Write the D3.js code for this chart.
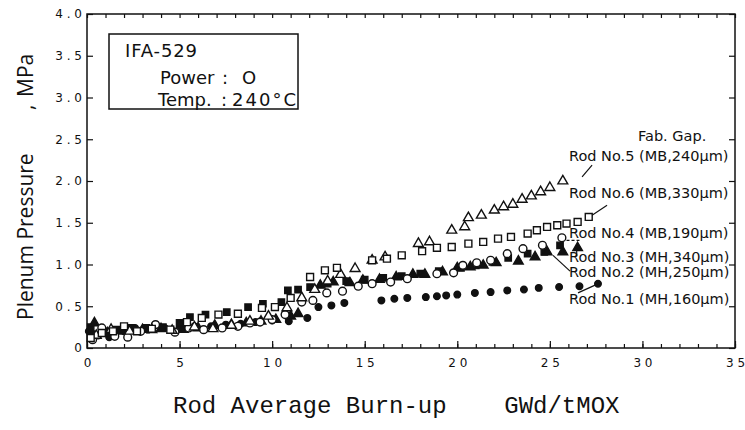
<!DOCTYPE html>
<html>
<head>
<meta charset="utf-8">
<script src="https://cdn.jsdelivr.net/npm/d3@7"></script>
<style>
    body { margin: 0; background: #fff; }
    svg { display: block; }
    .tick text { font-family: "DejaVu Sans", sans-serif; font-size: 12px; fill: #111; }
    .tick line { stroke: #111; stroke-width: 1.2; }
    .note { font-family: "DejaVu Sans", sans-serif; font-size: 14.5px; fill: #111; }
    .box-text { font-family: "DejaVu Sans", sans-serif; font-size: 18px; fill: #111; }
</style>
</head>
<body>
<div id="chart"></div>
<script>

// [burn-up GWd/tMOX, plenum pressure MPa]
const rod1 = [[0.1,0.2],[0.3,0.17],[0.6,0.15],[1.2,0.13],[2.0,0.2],[2.6,0.24],[3.3,0.22],[4.2,0.24],[5.0,0.24],[5.8,0.26],[6.7,0.26],[7.5,0.28],[8.3,0.29],[9.1,0.31],[10.0,0.33],[10.9,0.32],[11.9,0.36],[12.5,0.49],[13.2,0.51],[13.9,0.54],[15.9,0.57],[16.6,0.59],[17.3,0.60],[18.3,0.61],[18.9,0.62],[19.4,0.63],[20.0,0.64],[20.95,0.66],[21.8,0.67],[22.7,0.69],[23.6,0.70],[24.4,0.72],[25.5,0.73],[26.6,0.74],[27.6,0.77]];
const rod2 = [[0.2,0.25],[0.9,0.2],[1.6,0.22],[2.4,0.24],[3.2,0.24],[4.1,0.25],[5.0,0.3],[5.56,0.37],[6.4,0.40],[7.55,0.43],[8.7,0.49],[9.5,0.53],[10.5,0.55],[10.85,0.69],[11.4,0.70],[12.05,0.73],[13.0,0.77],[14.0,0.80],[15.0,0.82],[16.0,0.84],[17.0,0.86],[18.0,0.89],[19.0,0.92],[20.2,0.96],[21.0,0.99],[21.9,1.03],[22.75,1.08],[23.8,1.13],[24.7,1.15],[25.55,1.23]];
const rod3 = [[0.4,0.3],[1.1,0.18],[1.9,0.2],[3.0,0.22],[4.0,0.23],[5.2,0.22],[6.0,0.24],[6.9,0.27],[7.8,0.28],[8.6,0.3],[9.4,0.32],[10.2,0.34],[11.0,0.38],[11.4,0.41],[12.6,0.75],[13.3,0.79],[14.2,0.78],[14.9,0.81],[15.8,0.82],[16.7,0.85],[17.6,0.88],[18.25,0.88],[19.2,0.91],[20.0,0.96],[20.7,0.97],[21.4,0.99],[22.1,1.02],[23.3,1.04],[24.2,1.09],[24.85,1.15],[25.7,1.15],[26.5,1.2]];
const rod4 = [[0.3,0.1],[0.8,0.24],[1.5,0.14],[2.2,0.13],[2.9,0.2],[3.7,0.28],[4.75,0.19],[5.5,0.24],[6.3,0.22],[7.3,0.24],[8.15,0.26],[8.8,0.3],[9.35,0.31],[10.0,0.34],[10.7,0.4],[11.6,0.55],[12.2,0.57],[12.95,0.66],[13.8,0.68],[14.65,0.74],[15.4,0.77],[16.4,0.79],[17.3,0.83],[18.9,0.89],[19.8,0.90],[20.3,0.99],[21.05,1.02],[21.8,1.05],[22.7,1.13],[23.55,1.19],[24.6,1.23],[25.65,1.32]];
const rod5 = [[0.5,0.15],[1.3,0.22],[2.3,0.2],[3.5,0.22],[4.6,0.21],[5.8,0.25],[6.8,0.23],[7.8,0.27],[8.8,0.32],[9.8,0.38],[10.8,0.48],[11.6,0.6],[12.3,0.7],[13.0,0.8],[13.7,0.88],[14.48,0.95],[15.4,1.05],[16.1,1.09],[17.9,1.25],[18.5,1.27],[19.7,1.41],[20.4,1.45],[20.6,1.56],[21.3,1.59],[22.0,1.65],[22.5,1.69],[23.0,1.72],[23.5,1.78],[24.0,1.82],[24.5,1.87],[25.0,1.92],[25.7,2.0]];
const rod6 = [[0.2,0.12],[0.8,0.18],[1.4,0.2],[2.0,0.26],[2.7,0.2],[3.5,0.23],[4.5,0.22],[5.4,0.31],[6.2,0.36],[7.1,0.40],[8.15,0.41],[9.45,0.48],[10.15,0.49],[11.0,0.6],[12.05,0.85],[12.85,0.93],[13.5,0.96],[15.4,1.05],[16.2,1.07],[17.0,1.11],[18.1,1.16],[18.9,1.20],[19.7,1.21],[20.6,1.25],[21.4,1.27],[22.2,1.31],[22.9,1.33],[23.8,1.37],[24.3,1.41],[24.85,1.45],[25.4,1.47],[25.9,1.49],[26.5,1.51],[27.1,1.57]];

// rod labels and the leader from each label to its data
const rodLabels = ["Rod No.5 (MB,240μm)", "Rod No.6 (MB,330μm)", "Rod No.4 (MB,190μm)", "Rod No.3 (MH,340μm)", "Rod No.2 (MH,250μm)", "Rod No.1 (MH,160μm)"];
const labelY = [2.24, 1.8, 1.32, 1.03, 0.85, 0.53];
const leaders = [[[26.74,2.05],[27.28,2.19]], [[27.28,1.59],[28.09,1.71]], [[25.9,1.29],[26.6,1.29]], [[25.17,1.11],[26.09,0.92]], [[26.45,1.2],[26.45,1.1]], [[26.52,0.66],[27.71,0.78]]];

const xTicks = [0, 5, 10, 15, 20, 25, 30, 35];
const yTicks = [0, 0.5, 1.0, 1.5, 2.0, 2.5, 3.0, 3.5, 4.0];

let width = 745, height = 430;
let margin = {top: 14, right: 10, bottom: 82, left: 87};

let svg = d3.select("#chart").append("svg")
    .attr("width", width)
    .attr("height", height);

let x = d3.scaleLinear().domain([0, 35]).range([margin.left, 735]);
let y = d3.scaleLinear().domain([0, 4]).range([height - margin.bottom, margin.top]);

let spaced = s => s.split("").join(" ");

// bottom axis, ticks pointing inward
svg.append("g")
    .attr("transform", `translate(0, ${y(0)})`)
    .call(d3.axisBottom(x).tickValues(d3.range(0, 36, 1)).tickSize(-4).tickFormat(""))
    .call(g => g.select(".domain").remove());
svg.append("g")
    .attr("transform", `translate(0, ${y(0)})`)
    .call(d3.axisBottom(x).tickValues(xTicks).tickSize(-7).tickPadding(10).tickFormat(d => spaced(String(d))))
    .call(g => g.select(".domain").remove());

// top axis ticks
svg.append("g")
    .attr("transform", `translate(0, ${y(4)})`)
    .call(d3.axisTop(x).tickValues(d3.range(0, 36, 1)).tickSize(-4).tickFormat(""))
    .call(g => g.select(".domain").remove());

// left axis
svg.append("g")
    .attr("transform", `translate(${x(0)}, 0)`)
    .call(d3.axisLeft(y).tickValues(yTicks).tickSize(-6).tickPadding(5)
        .tickFormat(d => d === 0 ? "0" : spaced(d.toFixed(1))))
    .call(g => g.select(".domain").remove());

// right axis ticks
svg.append("g")
    .attr("transform", `translate(${x(35)}, 0)`)
    .call(d3.axisRight(y).tickValues(yTicks).tickSize(-6).tickFormat(""))
    .call(g => g.select(".domain").remove());

// frame
svg.append("rect")
    .attr("x", x(0)).attr("y", y(4))
    .attr("width", x(35) - x(0)).attr("height", y(0) - y(4))
    .attr("fill", "none").attr("stroke", "#111").attr("stroke-width", 1.5);

// axis titles
let yTitle = [["Plenum Pressure", 320], [",", 110], ["MPa", 97]];
yTitle.forEach(t => {
    svg.append("text")
        .attr("transform", `translate(33, ${t[1]}) rotate(-90)`)
        .attr("font-family", "Open Sans, sans-serif").attr("font-size", 21).attr("fill", "#111")
        .text(t[0]);
});

svg.append("text")
    .attr("x", 173).attr("y", 413)
    .attr("font-family", "Liberation Mono, monospace").attr("font-size", 24).attr("fill", "#111")
    .attr("xml:space", "preserve")
    .text("Rod Average Burn-up    GWd/tMOX");

// info box
svg.append("rect")
    .attr("x", 109).attr("y", 34).attr("width", 189).attr("height", 75)
    .attr("fill", "#fff").attr("stroke", "#111").attr("stroke-width", 1.5);
svg.append("text").attr("class", "box-text").attr("x", 125).attr("y", 57)
    .attr("textLength", 72).text("IFA-529");
svg.append("text").attr("class", "box-text").attr("x", 160).attr("y", 84).text("Power");
svg.append("text").attr("class", "box-text").attr("x", 222).attr("y", 84).text(":");
svg.append("text").attr("class", "box-text").attr("x", 242).attr("y", 84).text("O");
svg.append("text").attr("class", "box-text").attr("x", 158).attr("y", 106).text("Temp.");
svg.append("text").attr("class", "box-text").attr("x", 221).attr("y", 106).text(":");
svg.append("text").attr("class", "box-text").attr("x", 232).attr("y", 106)
    .attr("textLength", 64).text("240°C");

// data markers
let series = [
    {data: rod1, shape: d3.symbolCircle, size: 34, fill: "#111"},
    {data: rod2, shape: d3.symbolSquare, size: 40, fill: "#111"},
    {data: rod3, shape: d3.symbolTriangle, size: 40, fill: "#111"},
    {data: rod4, shape: d3.symbolCircle, size: 48, fill: "#fff"},
    {data: rod5, shape: d3.symbolTriangle, size: 42, fill: "#fff"},
    {data: rod6, shape: d3.symbolSquare, size: 48, fill: "#fff"}
];

series.forEach(s => {
    svg.append("g").selectAll("path")
        .data(s.data)
        .enter().append("path")
        .attr("d", d3.symbol().type(s.shape).size(s.size))
        .attr("transform", d => `translate(${x(d[0])}, ${y(d[1])})`)
        .attr("fill", s.fill)
        .attr("stroke", "#111")
        .attr("stroke-width", 1.4);
});

// rod annotations
svg.append("text").attr("class", "note").attr("x", 638).attr("y", 141).text("Fab. Gap.");
svg.selectAll(".rod-label")
    .data(rodLabels)
    .enter().append("text")
    .attr("class", "note rod-label")
    .attr("x", 569)
    .attr("y", (d, i) => y(labelY[i]))
    .text(d => d);

svg.selectAll(".leader")
    .data(leaders)
    .enter().append("line")
    .attr("class", "leader")
    .attr("x1", d => x(d[0][0])).attr("y1", d => y(d[0][1]))
    .attr("x2", d => x(d[1][0])).attr("y2", d => y(d[1][1]))
    .attr("stroke", "#111").attr("stroke-width", 1.2)
    .attr("stroke-dasharray", (d, i) => i === 2 ? "3,2" : null);

</script>
</body>
</html>
